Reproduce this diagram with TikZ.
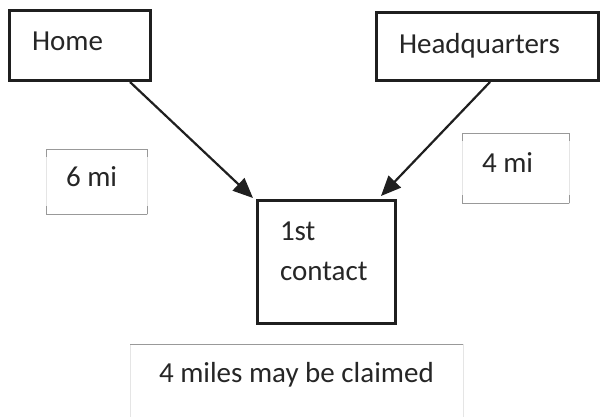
\documentclass[tikz,border=0pt]{standalone}
\usepackage{fontspec}
\setmainfont{Carlito}
\usetikzlibrary{arrows.meta,calc}
\begin{document}
\begin{tikzpicture}[x=1pt,y=-1pt,
  every node/.style={inner sep=0pt,outer sep=0pt},
  label text/.style={anchor=base west,font=\fontsize{29}{35}\selectfont,text=black!85},
  place box/.style={draw=black!88,line width=3pt,anchor=north west},
  note line/.style={draw=black!40,line width=1pt},
  faint line/.style={draw=black!10,line width=0.8pt},
  link/.style={draw=black!88,line width=2.2pt,-{Triangle[length=20pt,width=17pt]}}]
\useasboundingbox (0,0) rectangle (600,416);
\fill[white] (0,0) rectangle (600,416);

% framed places
\node[place box,minimum width=141pt,minimum height=70pt] (home) at (9,10) {};
\node[place box,minimum width=222pt,minimum height=68pt] (hq) at (376,12) {};
\node[place box,minimum width=138pt,minimum height=123pt] (contact) at (257,200) {};

\node[label text] (homet) at (32,50) {Home};
\node[label text] (hqt) at (399,53) {Headquarters};
\node[label text] (c1) at (280,240) {1st};
\node[label text] (c2) at (280,280) {contact};

% distance notes with light frames
\node[anchor=north west,minimum width=101pt,minimum height=65pt] (six) at (46,149) {};
\draw[faint line] (six.north west) rectangle (six.south east);
\draw[note line] (six.north west) -- (six.north east);
\draw[note line] (six.south west) -- (six.south east);
\draw[note line] (six.north west) -- ++(0,8) (six.north east) -- ++(0,8)
  (six.south west) -- ++(0,-8) (six.south east) -- ++(0,-8);
\node[label text] (sixt) at (66,186) {6 mi};

\node[anchor=north west,minimum width=107pt,minimum height=70pt] (four) at (462,133) {};
\draw[faint line] (four.north west) rectangle (four.south east);
\draw[note line] (four.north west) -- (four.north east);
\draw[note line] (four.south west) -- (four.south east);
\draw[note line] (four.north west) -- ++(0,8) (four.north east) -- ++(0,8)
  (four.south west) -- ++(0,-8) (four.south east) -- ++(0,-8);
\node[label text] (fourt) at (482,172) {4 mi};

% result note
\node[anchor=north west,minimum width=333pt,minimum height=74pt] (claim) at (130,344) {};
\draw[faint line] (claim.south west) -- (claim.north west) (claim.north east) -- (claim.south east);
\draw[note line] (claim.north west) -- (claim.north east);
\node[label text] (claimt) at (159,382) {4 miles may be claimed};

% routes to the first contact
\draw[link] ($(home.south east)+(-20,2)$) -- ($(contact.north west)+(-4,-2)$);
\draw[link] ($(hq.south west)+(114,2)$) -- ($(contact.north east)+(-14,-4)$);
\end{tikzpicture}
\end{document}
